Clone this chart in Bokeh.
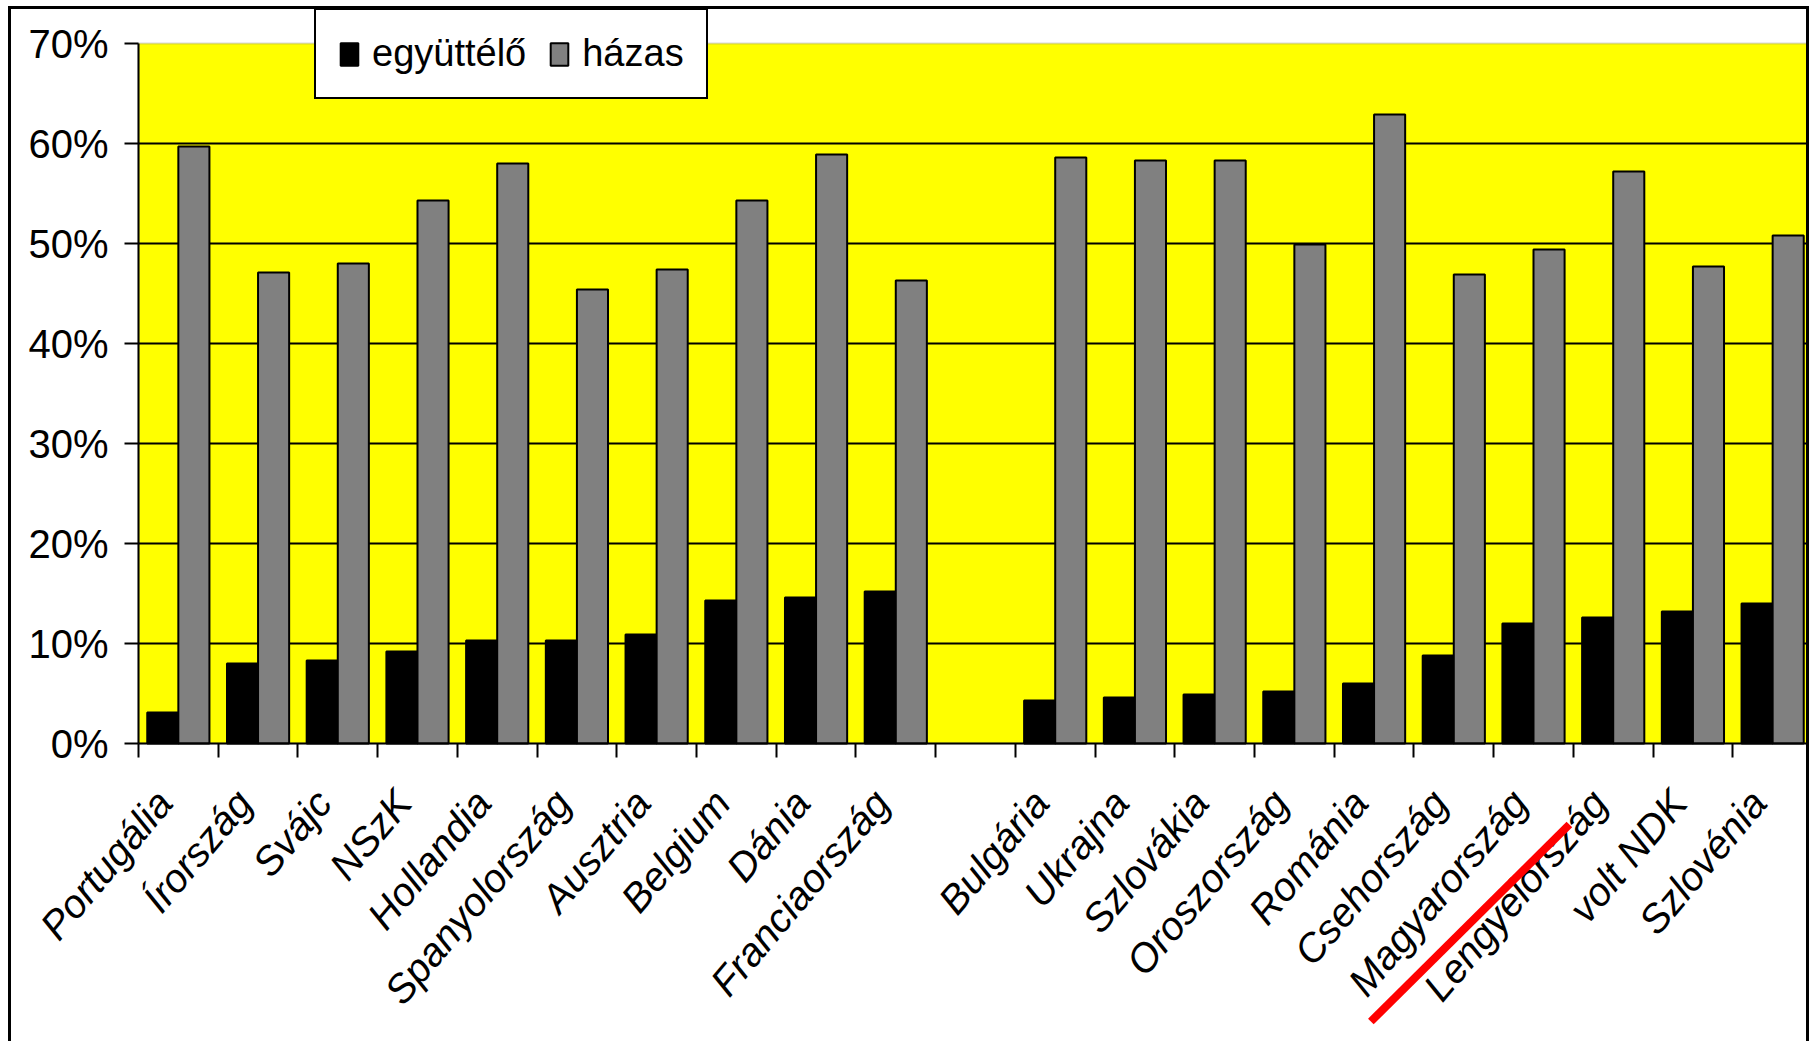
from bokeh.plotting import figure
from bokeh.models import (ColumnDataSource, Range1d, FixedTicker, NumeralTickFormatter,
                          Legend, LegendItem, Arrow, LinearAxis, BoxAnnotation)
from bokeh.embed import file_html
from bokeh.resources import INLINE
import math

countries = ["Portugália", "Írország", "Svájc", "NSzK", "Hollandia", "Spanyolország",
             "Ausztria", "Belgium", "Dánia", "Franciaország", "",
             "Bulgária", "Ukrajna", "Szlovákia", "Oroszország", "Románia",
             "Csehország", "Magyarország", "Lengyelország", "volt NDK", "Szlovénia"]
egyuttelo = [0.031, 0.080, 0.083, 0.092, 0.103, 0.103, 0.109, 0.143, 0.146, 0.152, float("nan"),
             0.043, 0.046, 0.049, 0.052, 0.060, 0.088, 0.120, 0.126, 0.132, 0.140]
hazas = [0.597, 0.471, 0.480, 0.543, 0.580, 0.454, 0.474, 0.543, 0.589, 0.463, float("nan"),
         0.586, 0.583, 0.583, 0.499, 0.629, 0.469, 0.494, 0.572, 0.477, 0.508]
y_ticks = [0.0, 0.1, 0.2, 0.3, 0.4, 0.5, 0.6, 0.7]
series_names = ["együttélő", "házas"]

FONT = "Liberation Sans Narrow, Arial Narrow, Liberation Sans"
BAR_W = 0.39
LABEL_SHIFT = 0.18
N = len(countries)
Y_MAX = y_ticks[-1]

idx = list(range(N))
centers = [i + 0.5 for i in idx]
src = ColumnDataSource(dict(
    x1=[c - BAR_W / 2 for c in centers],
    x2=[c + BAR_W / 2 for c in centers],
    e=egyuttelo, h=hazas))
grid_src = ColumnDataSource(dict(y=y_ticks[1:-1], x0=[0] * (len(y_ticks) - 2),
                                 x1=[N] * (len(y_ticks) - 2)))

# whole canvas is the frame; axes sit at fixed locations inside it
p = figure(width=1801, height=1035, output_backend="svg", toolbar_location=None,
           x_range=Range1d(-1.593, N), y_range=Range1d(-0.301, 0.734),
           x_axis_type=None, y_axis_type=None,
           min_border_left=0, min_border_top=0, min_border_right=0, min_border_bottom=0)
p.styles = {"margin-left": "8px", "margin-top": "6px",
            "border-left": "3px solid black", "border-top": "3px solid black",
            "border-right": "3px solid black"}
p.background_fill_color = "white"
p.border_fill_color = "white"
p.outline_line_color = None

# plot area
p.add_layout(BoxAnnotation(left=0, right=N, bottom=0, top=Y_MAX, fill_color="#FFFF00",
                           fill_alpha=1, line_color="#808080", line_width=2, level="underlay"))
p.segment(x0="x0", x1="x1", y0="y", y1="y", source=grid_src, line_color="black", line_width=2)

r1 = p.vbar(x="x1", top="e", bottom=0, width=BAR_W, source=src,
            fill_color="black", line_color="black", line_width=2)
r2 = p.vbar(x="x2", top="h", bottom=0, width=BAR_W, source=src,
            fill_color="#808080", line_color="black", line_width=2)

# y axis
ya = LinearAxis(fixed_location=0, bounds=(0, Y_MAX))
ya.ticker = FixedTicker(ticks=y_ticks)
ya.formatter = NumeralTickFormatter(format="0%")
ya.major_tick_out = 14
ya.major_tick_in = 0
ya.minor_tick_line_color = None
ya.major_tick_line_width = 2
ya.axis_line_width = 2
ya.axis_line_color = "black"
ya.major_label_text_font = FONT
ya.major_label_text_font_size = "40px"
ya.major_label_text_color = "black"
ya.major_label_standoff = 16
p.add_layout(ya, "left")

# x axis: labels near centers, tick marks at boundaries
xa = LinearAxis(fixed_location=0, bounds=(0, N))
label_pos = [round(c - LABEL_SHIFT, 3) for c in centers]
label_ticks = [t for t, n in zip(label_pos, countries) if n]
xa.ticker = FixedTicker(ticks=label_ticks, minor_ticks=[float(i) for i in range(N + 1)])
xa.major_label_overrides = {t: n for t, n in zip(label_pos, countries) if n}
xa.major_tick_line_color = None
xa.major_tick_out = 0
xa.major_tick_in = 0
xa.minor_tick_out = 14
xa.minor_tick_in = 0
xa.minor_tick_line_color = "black"
xa.minor_tick_line_width = 2
xa.axis_line_width = 2
xa.axis_line_color = "black"
xa.major_label_orientation = math.radians(50)
xa.major_label_text_font = FONT
xa.major_label_text_font_size = "40px"
xa.major_label_text_font_style = "italic"
xa.major_label_text_color = "black"
xa.major_label_standoff = 38
p.add_layout(xa, "below")

legend = Legend(items=[LegendItem(label=series_names[0], renderers=[r1]),
                       LegendItem(label=series_names[1], renderers=[r2])],
                location=(303, 945), orientation="horizontal")
legend.label_text_font = FONT
legend.label_text_font_size = "38px"
legend.label_text_color = "black"
legend.glyph_width = 22
legend.glyph_height = 28
legend.label_standoff = 12
legend.spacing = 22
legend.padding = 22
legend.margin = 0
legend.border_line_color = "black"
legend.border_line_width = 2
legend.border_line_alpha = 1
legend.background_fill_color = "white"
legend.background_fill_alpha = 1
p.add_layout(legend, "center")

# red strike across a label
k = countries.index("Lengyelország") + 0.5
p.add_layout(Arrow(end=None, x_start=k - 3.04, y_start=-0.278, x_end=k - 0.55, y_end=-0.081,
                   line_color="#FF0000", line_width=8))

open("out.html", "w").write(file_html(p, INLINE))
